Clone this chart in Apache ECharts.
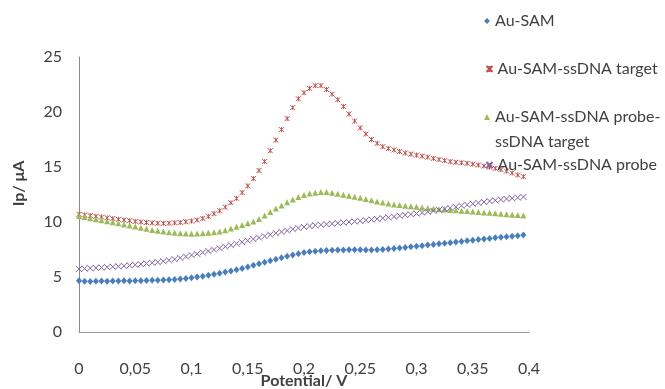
<!DOCTYPE html>
<html>
<head>
<meta charset="utf-8">
<script src="https://cdn.jsdelivr.net/npm/echarts@6/dist/echarts.min.js"></script>
<style>
  html, body { margin: 0; padding: 0; background: #fff; }
  #chart { width: 665px; height: 389px; }
</style>
</head>
<body>
<div id="chart"></div>
<script>
// Potential sweep (V)
const potential = [
  0, 0.005, 0.01, 0.015, 0.02, 0.025, 0.03, 0.035, 0.04, 0.045,
  0.05, 0.055, 0.06, 0.065, 0.07, 0.075, 0.08, 0.085, 0.09, 0.095,
  0.1, 0.105, 0.11, 0.115, 0.12, 0.125, 0.13, 0.135, 0.14, 0.145,
  0.15, 0.155, 0.16, 0.165, 0.17, 0.175, 0.18, 0.185, 0.19, 0.195,
  0.2, 0.205, 0.21, 0.215, 0.22, 0.225, 0.23, 0.235, 0.24, 0.245,
  0.25, 0.255, 0.26, 0.265, 0.27, 0.275, 0.28, 0.285, 0.29, 0.295,
  0.3, 0.305, 0.31, 0.315, 0.32, 0.325, 0.33, 0.335, 0.34, 0.345,
  0.35, 0.355, 0.36, 0.365, 0.37, 0.375, 0.38, 0.385, 0.39, 0.395
];

// Peak current Ip (µA) for each electrode
const auSam = [
  4.65, 4.62, 4.60, 4.62, 4.63, 4.62, 4.64, 4.63, 4.65, 4.64,
  4.66, 4.65, 4.68, 4.70, 4.71, 4.73, 4.75, 4.78, 4.82, 4.87,
  4.93, 4.99, 5.07, 5.15, 5.24, 5.34, 5.45, 5.55, 5.66, 5.78,
  5.92, 6.06, 6.20, 6.34, 6.48, 6.62, 6.76, 6.89, 7.01, 7.12,
  7.22, 7.29, 7.34, 7.38, 7.41, 7.43, 7.45, 7.46, 7.47, 7.48,
  7.47, 7.46, 7.46, 7.48, 7.51, 7.54, 7.58, 7.63, 7.69, 7.75,
  7.80, 7.85, 7.91, 7.96, 8.02, 8.07, 8.12, 8.18, 8.23, 8.29,
  8.34, 8.40, 8.45, 8.51, 8.56, 8.61, 8.66, 8.71, 8.76, 8.81
];

const ssTarget = [
  10.70, 10.64, 10.58, 10.52, 10.45, 10.38, 10.31, 10.24, 10.18, 10.12,
  10.05, 10.00, 9.95, 9.92, 9.89, 9.88, 9.89, 9.92, 9.96, 10.02,
  10.09, 10.18, 10.32, 10.52, 10.76, 11.02, 11.35, 11.75, 12.15, 12.68,
  13.28, 13.95, 14.68, 15.50, 16.48, 17.45, 18.40, 19.40, 20.40, 21.20,
  21.75, 22.15, 22.40, 22.40, 22.05, 21.62, 21.12, 20.50, 19.82, 19.18,
  18.55, 18.00, 17.50, 17.15, 16.85, 16.68, 16.55, 16.40, 16.27, 16.17,
  16.08, 15.99, 15.90, 15.78, 15.68, 15.58, 15.49, 15.43, 15.38, 15.33,
  15.26, 15.18, 15.09, 14.99, 14.88, 14.77, 14.63, 14.46, 14.28, 14.12
];

const probeTarget = [
  10.55, 10.45, 10.35, 10.24, 10.15, 10.06, 9.98, 9.88, 9.78, 9.68,
  9.58, 9.48, 9.38, 9.28, 9.20, 9.13, 9.07, 9.02, 8.98, 8.95,
  8.94, 8.95, 8.98, 9.02, 9.07, 9.14, 9.24, 9.40, 9.57, 9.73,
  9.88, 10.05, 10.28, 10.58, 10.91, 11.22, 11.50, 11.79, 12.05, 12.28,
  12.45, 12.58, 12.67, 12.73, 12.72, 12.66, 12.57, 12.47, 12.38, 12.30,
  12.20, 12.10, 11.98, 11.87, 11.77, 11.68, 11.60, 11.54, 11.48, 11.43,
  11.38, 11.32, 11.26, 11.20, 11.16, 11.13, 11.10, 11.07, 11.03, 10.99,
  10.95, 10.91, 10.87, 10.83, 10.79, 10.75, 10.71, 10.67, 10.63, 10.60
];

const ssProbe = [
  5.73, 5.76, 5.80, 5.83, 5.86, 5.89, 5.93, 5.97, 6.01, 6.06,
  6.11, 6.17, 6.23, 6.29, 6.35, 6.43, 6.52, 6.62, 6.74, 6.86,
  6.99, 7.11, 7.23, 7.36, 7.49, 7.62, 7.76, 7.89, 8.03, 8.17,
  8.31, 8.45, 8.58, 8.71, 8.85, 8.98, 9.10, 9.22, 9.34, 9.45,
  9.55, 9.63, 9.70, 9.75, 9.80, 9.85, 9.90, 9.95, 10.00, 10.05,
  10.10, 10.16, 10.22, 10.28, 10.35, 10.42, 10.49, 10.56, 10.63, 10.70,
  10.77, 10.85, 10.93, 11.01, 11.10, 11.19, 11.28, 11.38, 11.48, 11.57,
  11.66, 11.74, 11.82, 11.90, 11.97, 12.04, 12.10, 12.16, 12.22, 12.28
];

const seriesNames = [
  'Au-SAM',
  'Au-SAM-ssDNA target',
  'Au-SAM-ssDNA probe-ssDNA target',
  'Au-SAM-ssDNA probe'
];

const FONT = 'Lato, "Open Sans", sans-serif';
const TEXT = '#404040';

const STAR = 'path://M0,0L10,10M10,0L0,10M5,0L5,10';
const CROSS = 'path://M0,0L10,10M10,0L0,10';

function pairs(ys) {
  return potential.map((x, i) => [x, ys[i]]);
}

function scatter(name, ys, symbol, size, color, stroke) {
  return {
    name: name,
    type: 'scatter',
    data: pairs(ys),
    symbol: symbol,
    symbolSize: size,
    itemStyle: stroke
      ? { color: 'none', borderColor: color, borderWidth: 1, opacity: 1 }
      : { color: color, opacity: 1 },
    emphasis: { disabled: true },
    silent: true
  };
}

function legendAt(name, top, extra) {
  return Object.assign({
    data: [name],
    orient: 'vertical',
    left: 484,
    top: top,
    padding: 0,
    itemWidth: 6,
    itemHeight: 6,
    itemGap: 0,
    selectedMode: false,
    textStyle: { fontFamily: FONT, fontSize: 16, color: TEXT, lineHeight: 20 }
  }, extra || {});
}

const chart = echarts.init(document.getElementById('chart'), null, { renderer: 'canvas' });

chart.setOption({
  animation: false,
  backgroundColor: '#ffffff',
  grid: { left: 79, right: 136, top: 57, bottom: 57, outerBoundsMode: 'none', containLabel: false },
  xAxis: {
    type: 'value',
    min: 0,
    max: 0.4,
    interval: 0.05,
    name: 'Potential/ V',
    nameLocation: 'middle',
    nameGap: 41,
    nameMoveOverlap: false,
    nameTextStyle: { fontFamily: FONT, fontSize: 16, fontWeight: 'bold', color: TEXT },
    axisLine: { show: true, lineStyle: { color: '#9a9a9a', width: 1 } },
    axisTick: { show: false },
    splitLine: { show: false },
    axisLabel: {
      margin: 29,
      fontFamily: FONT,
      fontSize: 16,
      color: TEXT,
      formatter: v => String(+v.toFixed(2)).replace('.', ',')
    }
  },
  yAxis: {
    type: 'value',
    min: 0,
    max: 25,
    interval: 5,
    name: 'Ip/ μA',
    nameLocation: 'middle',
    nameGap: 52,
    nameMoveOverlap: false,
    nameTextStyle: {
      fontFamily: FONT, fontSize: 16, fontWeight: 'bold', color: TEXT,
      padding: [0, 0, 0, 22]
    },
    axisLine: { show: true, lineStyle: { color: '#8a8a8a', width: 1 } },
    axisTick: { show: false },
    splitLine: { show: false },
    axisLabel: { margin: 17, fontFamily: FONT, fontSize: 16, color: TEXT }
  },
  legend: [
    legendAt(seriesNames[0], 11),
    legendAt(seriesNames[1], 59),
    // two-line entry: a blank first line keeps the marker level with "probe-"
    legendAt(seriesNames[2], 79.5, {
      formatter: () => ' \nAu-SAM-ssDNA probe-\nssDNA target',
      textStyle: { fontFamily: FONT, fontSize: 16, color: TEXT, lineHeight: 25 }
    }),
    legendAt(seriesNames[3], 155)
  ],
  series: [
    scatter(seriesNames[0], auSam, 'diamond', [6, 7], '#4a7ebb', false),
    scatter(seriesNames[1], ssTarget, STAR, 5, '#c0504d', true),
    scatter(seriesNames[2], probeTarget, 'triangle', 6, '#9bbb59', false),
    scatter(seriesNames[3], ssProbe, CROSS, 6, '#8064a2', true)
  ]
});
</script>
</body>
</html>
